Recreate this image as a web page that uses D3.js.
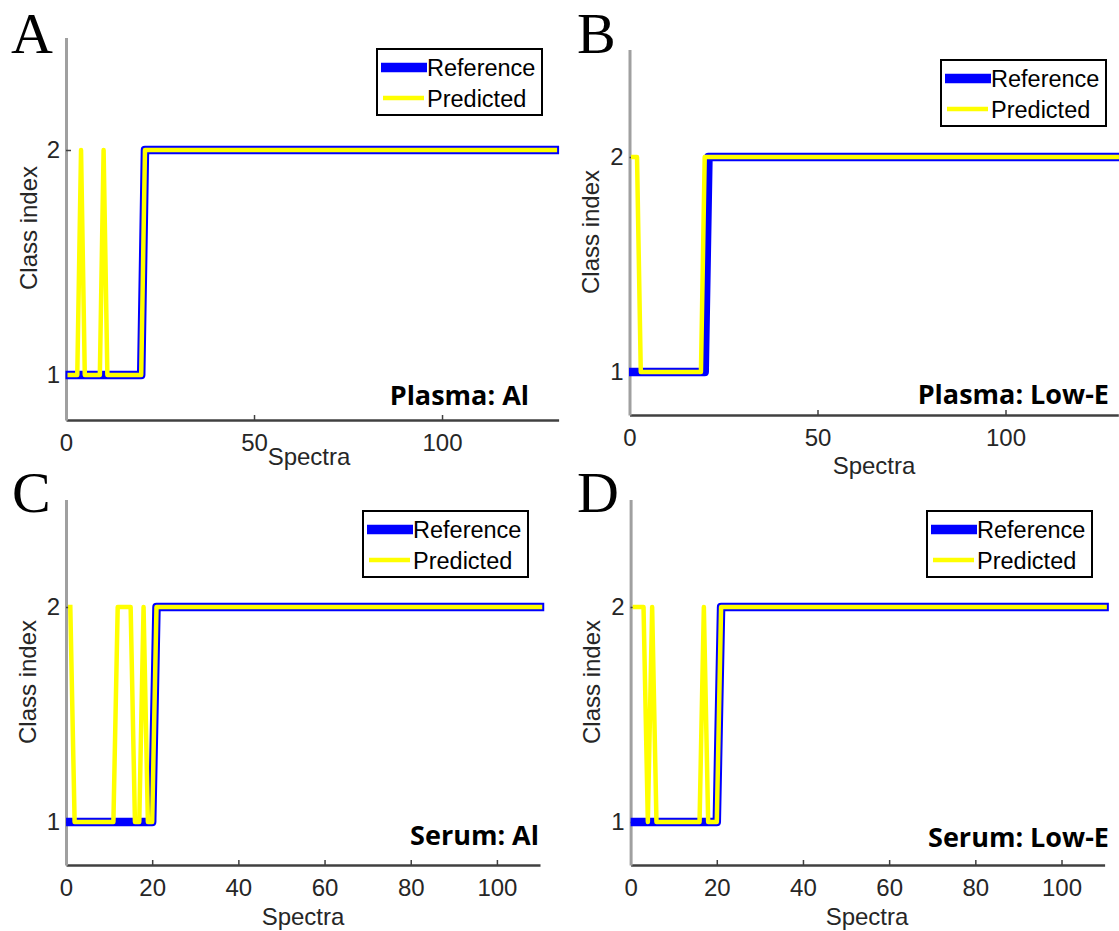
<!DOCTYPE html>
<html>
<head>
<meta charset="utf-8">
<script src="https://cdn.jsdelivr.net/npm/d3@7"></script>
<style>
body { margin: 0; background: #fff; }
text { font-family: "Liberation Sans", Arial, sans-serif; }
</style>
</head>
<body>
<script>
// class index per spectrum (spectrum number = position + 1)
const refA = [
  1,1,1,1,1,1,1,1,1,1, 1,1,1,1,1,1,1,1,1,1,
  2,2,2,2,2,2,2,2,2,2, 2,2,2,2,2,2,2,2,2,2, 2,2,2,2,2,2,2,2,2,2,
  2,2,2,2,2,2,2,2,2,2, 2,2,2,2,2,2,2,2,2,2, 2,2,2,2,2,2,2,2,2,2,
  2,2,2,2,2,2,2,2,2,2, 2,2,2,2,2,2,2,2,2,2, 2,2,2,2,2,2,2,2,2,2,
  2,2,2,2,2,2,2,2,2,2, 2,2,2,2,2,2,2,2,2,2
];
const predA = [
  1,1,1,2,1,1,1,1,1,2, 1,1,1,1,1,1,1,1,1,1,
  2,2,2,2,2,2,2,2,2,2, 2,2,2,2,2,2,2,2,2,2, 2,2,2,2,2,2,2,2,2,2,
  2,2,2,2,2,2,2,2,2,2, 2,2,2,2,2,2,2,2,2,2, 2,2,2,2,2,2,2,2,2,2,
  2,2,2,2,2,2,2,2,2,2, 2,2,2,2,2,2,2,2,2,2, 2,2,2,2,2,2,2,2,2,2,
  2,2,2,2,2,2,2,2,2,2, 2,2,2,2,2,2,2,2,2,2
];
const refB = [
  1,1,1,1,1,1,1,1,1,1, 1,1,1,1,1,1,1,1,1,1,
  2,2,2,2,2,2,2,2,2,2, 2,2,2,2,2,2,2,2,2,2, 2,2,2,2,2,2,2,2,2,2,
  2,2,2,2,2,2,2,2,2,2, 2,2,2,2,2,2,2,2,2,2, 2,2,2,2,2,2,2,2,2,2,
  2,2,2,2,2,2,2,2,2,2, 2,2,2,2,2,2,2,2,2,2, 2,2,2,2,2,2,2,2,2,2,
  2,2,2,2,2,2,2,2,2,2, 2,2,2,2,2,2,2,2,2,2
];
const predB = [
  2,2,1,1,1,1,1,1,1,1, 1,1,1,1,1,1,1,1,1,2,
  2,2,2,2,2,2,2,2,2,2, 2,2,2,2,2,2,2,2,2,2, 2,2,2,2,2,2,2,2,2,2,
  2,2,2,2,2,2,2,2,2,2, 2,2,2,2,2,2,2,2,2,2, 2,2,2,2,2,2,2,2,2,2,
  2,2,2,2,2,2,2,2,2,2, 2,2,2,2,2,2,2,2,2,2, 2,2,2,2,2,2,2,2,2,2,
  2,2,2,2,2,2,2,2,2,2, 2,2,2,2,2,2,2,2,2,2
];
const refC = [
  1,1,1,1,1,1,1,1,1,1, 1,1,1,1,1,1,1,1,1,1,
  2,2,2,2,2,2,2,2,2,2, 2,2,2,2,2,2,2,2,2,2, 2,2,2,2,2,2,2,2,2,2,
  2,2,2,2,2,2,2,2,2,2, 2,2,2,2,2,2,2,2,2,2, 2,2,2,2,2,2,2,2,2,2,
  2,2,2,2,2,2,2,2,2,2, 2,2,2,2,2,2,2,2,2,2, 2,2,2,2,2,2,2,2,2,2
];
const predC = [
  2,1,1,1,1,1,1,1,1,1, 1,2,2,2,2,1,1,2,1,1,
  2,2,2,2,2,2,2,2,2,2, 2,2,2,2,2,2,2,2,2,2, 2,2,2,2,2,2,2,2,2,2,
  2,2,2,2,2,2,2,2,2,2, 2,2,2,2,2,2,2,2,2,2, 2,2,2,2,2,2,2,2,2,2,
  2,2,2,2,2,2,2,2,2,2, 2,2,2,2,2,2,2,2,2,2, 2,2,2,2,2,2,2,2,2,2
];
const refD = [
  1,1,1,1,1,1,1,1,1,1, 1,1,1,1,1,1,1,1,1,1,
  2,2,2,2,2,2,2,2,2,2, 2,2,2,2,2,2,2,2,2,2, 2,2,2,2,2,2,2,2,2,2,
  2,2,2,2,2,2,2,2,2,2, 2,2,2,2,2,2,2,2,2,2, 2,2,2,2,2,2,2,2,2,2,
  2,2,2,2,2,2,2,2,2,2, 2,2,2,2,2,2,2,2,2,2, 2,2,2,2,2,2,2,2,2,2
];
const predD = [
  2,2,2,1,2,1,1,1,1,1, 1,1,1,1,1,1,2,1,1,1,
  2,2,2,2,2,2,2,2,2,2, 2,2,2,2,2,2,2,2,2,2, 2,2,2,2,2,2,2,2,2,2,
  2,2,2,2,2,2,2,2,2,2, 2,2,2,2,2,2,2,2,2,2, 2,2,2,2,2,2,2,2,2,2,
  2,2,2,2,2,2,2,2,2,2, 2,2,2,2,2,2,2,2,2,2, 2,2,2,2,2,2,2,2,2,2
];

const plasmaTicks = [0, 50, 100];
const serumTicks = [0, 20, 40, 60, 80, 100];
const classTicks = [1, 2];
const seriesNames = ["Reference", "Predicted"];
const panelLetters = ["A", "B", "C", "D"];
const panelTags = ["Plasma: Al", "Plasma: Low-E", "Serum: Al", "Serum: Low-E"];

const W = 1119, H = 931;
const svg = d3.select("body").append("svg")
  .attr("width", W).attr("height", H);

// layout of each sub plot
const panels = [
  { ref: refA, pred: predA, xmax: 131, xticks: plasmaTicks,
    x0: 66, x1: 558.6, yb: 420, yt: 37.5,
    letter: [11, 53], tag: [529, 405], leg: [377, 49], xlab: [309, 465], ylab: [28.5, 228] },
  { ref: refB, pred: predB, xmax: 130, xticks: plasmaTicks,
    x0: 629.5, x1: 1118.3, yb: 415, yt: 49.5,
    letter: [577, 53], tag: [1109, 404], leg: [941, 60], xlab: [874, 474], ylab: [591, 232] },
  { ref: refC, pred: predC, xmax: 110, xticks: serumTicks,
    x0: 66, x1: 540, yb: 865, yt: 499.5,
    letter: [12, 512], tag: [539, 845], leg: [363, 511], xlab: [303, 925], ylab: [27.5, 682] },
  { ref: refD, pred: predD, xmax: 110, xticks: serumTicks,
    x0: 630.6, x1: 1104.6, yb: 865, yt: 499.5,
    letter: [577, 512], tag: [1109, 847], leg: [927, 511], xlab: [867, 925], ylab: [592, 682] }
];

const textCol = "#262626";

panels.forEach(function(p, k) {
  const g = svg.append("g");
  const x = d3.scaleLinear().domain([0, p.xmax]).range([p.x0, p.x1]);
  const y = d3.scaleLinear().domain([0.8, 2.5]).range([p.yb, p.yt]);

  // x axis
  const gx = g.append("g")
    .attr("transform", "translate(0," + p.yb + ")")
    .call(d3.axisBottom(x).tickValues(p.xticks).tickSize(-5).tickSizeOuter(0).tickPadding(14));
  gx.select(".domain").attr("stroke", "#404040").attr("stroke-width", 2.5);
  gx.selectAll(".tick line").attr("stroke", "#404040").attr("stroke-width", 1.5);
  gx.selectAll(".tick text").attr("fill", textCol).style("font-size", "24px");

  // y axis
  const gy = g.append("g")
    .attr("transform", "translate(" + p.x0 + ",0)")
    .call(d3.axisLeft(y).tickValues(classTicks).tickFormat(d3.format("d")).tickSize(-5).tickSizeOuter(0).tickPadding(6));
  gy.select(".domain").attr("stroke", "#a0a0a0").attr("stroke-width", 3);
  gy.selectAll(".tick line").attr("stroke", "#404040").attr("stroke-width", 1.5);
  gy.selectAll(".tick text").attr("fill", textCol).style("font-size", "24px");

  // lines
  const line = d3.line().x((d, i) => x(i + 1)).y(d => y(d));
  g.append("path").datum(p.ref)
    .attr("d", line).attr("fill", "none")
    .attr("stroke", "#0000ff").attr("stroke-width", 8.5)
    .attr("stroke-linejoin", "round").attr("stroke-linecap", "square");
  g.append("path").datum(p.pred)
    .attr("d", line).attr("fill", "none")
    .attr("stroke", "#ffff00").attr("stroke-width", 4.5)
    .attr("stroke-linejoin", "round").attr("stroke-linecap", "square");

  // axis titles
  g.append("text").attr("x", p.xlab[0]).attr("y", p.xlab[1])
    .attr("text-anchor", "middle").attr("fill", textCol)
    .style("font-size", "24px").text("Spectra");
  g.append("text")
    .attr("transform", "translate(" + p.ylab[0] + "," + p.ylab[1] + ") rotate(-90)")
    .attr("text-anchor", "middle").attr("dy", "0.35em").attr("fill", textCol)
    .style("font-size", "24px").text("Class index");

  // tag text
  g.append("text").attr("x", p.tag[0]).attr("y", p.tag[1])
    .attr("text-anchor", "end")
    .style("font-family", "'Open Sans', 'Noto Sans', sans-serif")
    .style("font-weight", "700").style("font-size", "27px")
    .text(panelTags[k]);

  // panel letter
  g.append("text").attr("x", p.letter[0]).attr("y", p.letter[1])
    .style("font-family", "'Liberation Serif', 'Times New Roman', serif")
    .style("font-size", "58px")
    .text(panelLetters[k]);

  // legend
  const lg = g.append("g").attr("transform", "translate(" + p.leg[0] + "," + p.leg[1] + ")");
  lg.append("rect").attr("width", 165).attr("height", 66)
    .attr("fill", "#fff").attr("stroke", "#000").attr("stroke-width", 2);
  lg.append("line").attr("x1", 4).attr("x2", 50).attr("y1", 18.5).attr("y2", 18.5)
    .attr("stroke", "#0000ff").attr("stroke-width", 9.5);
  lg.append("line").attr("x1", 6).attr("x2", 47).attr("y1", 49).attr("y2", 49)
    .attr("stroke", "#ffff00").attr("stroke-width", 4.5);
  lg.selectAll("text.lab").data(seriesNames).enter().append("text")
    .attr("x", 50).attr("y", (d, i) => 27 + i * 31)
    .style("font-size", "23.5px").attr("fill", "#000")
    .text(d => d);
});
</script>
</body>
</html>
